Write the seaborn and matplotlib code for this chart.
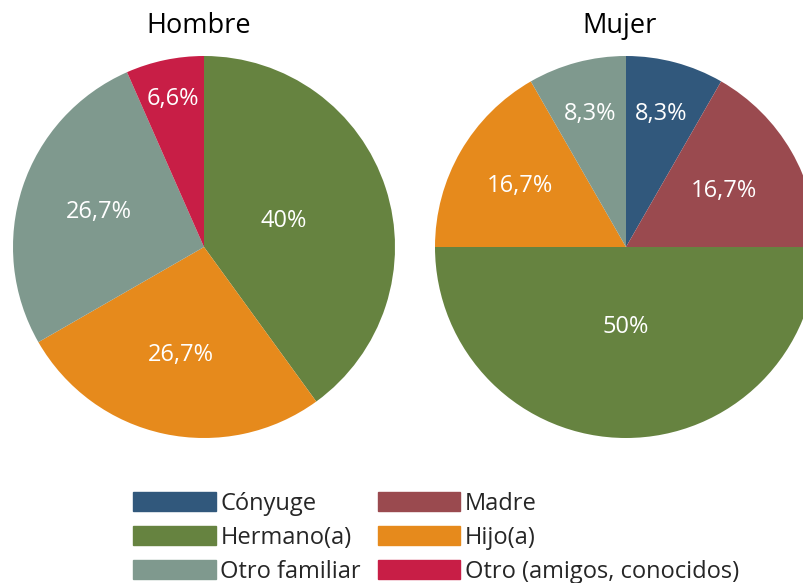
import matplotlib
matplotlib.use('Agg')
import matplotlib.pyplot as plt
import matplotlib.patches as mpatches
import numpy as np
import seaborn as sns

# Categories and colours (same order for both pies)
categories = ['Cónyuge', 'Madre', 'Hermano(a)', 'Hijo(a)', 'Otro familiar', 'Otro (amigos, conocidos)']
colors = ['#31587C', '#9A4A4F', '#668340', '#E68A1C', '#7F998E', '#C81E46']

# Percentages per group
hombre = [0, 0, 40, 26.7, 26.7, 6.6]
mujer = [8.3, 16.7, 50, 16.7, 8.3, 0]

# distance of each percent label from the centre (fraction of radius)
hombre_lbl_dist = [0.6, 0.6, 0.44, 0.58, 0.58, 0.79]
mujer_lbl_dist = [0.72, 0.59, 0.42, 0.64, 0.72, 0.6]

sns.set_theme(style='white')
plt.rcParams['font.family'] = ['Open Sans', 'DejaVu Sans']

fig = plt.figure(figsize=(8.04, 5.83), dpi=100)

W, H = 804, 583


def draw_pie(cx, cy, r, values, dists, title, title_x):
    ax = fig.add_axes([(cx - r) / W, 1 - (cy + r) / H, 2 * r / W, 2 * r / H])
    wedges, _ = ax.pie(values, colors=colors, startangle=90, counterclock=False,
                       radius=1, wedgeprops=dict(linewidth=0))
    for w, v, d in zip(wedges, values, dists):
        if v == 0:
            continue
        ang = np.deg2rad((w.theta1 + w.theta2) / 2)
        txt = f'{v:g}'.replace('.', ',') + '%'
        ax.text(d * np.cos(ang), d * np.sin(ang), txt, ha='center', va='center',
                color='white', fontsize=17)
    ax.set_xlim(-1, 1)
    ax.set_ylim(-1, 1)
    ax.set_aspect('equal')
    ax.axis('off')
    fig.text(title_x / W, 1 - 26 / H, title, ha='center', va='center', fontsize=19.5, color='black')
    return ax


draw_pie(204, 247, 191, hombre, hombre_lbl_dist, 'Hombre', 199)
draw_pie(626, 247, 191, mujer, mujer_lbl_dist, 'Mujer', 620)

# Legend: column-major order
order = [0, 2, 4, 1, 3, 5]
handles = [mpatches.Patch(color=colors[i], label=categories[i]) for i in order]
fig.legend(handles=handles, ncol=2, loc='upper left',
           bbox_to_anchor=(133 / W, 1 - 492 / H), frameon=False,
           fontsize=17, handlelength=3.5, handleheight=0.85, handletextpad=0.2,
           labelspacing=0.42, columnspacing=0.7, borderpad=0, borderaxespad=0)

fig.savefig('out.png', dpi=100, facecolor='white')
